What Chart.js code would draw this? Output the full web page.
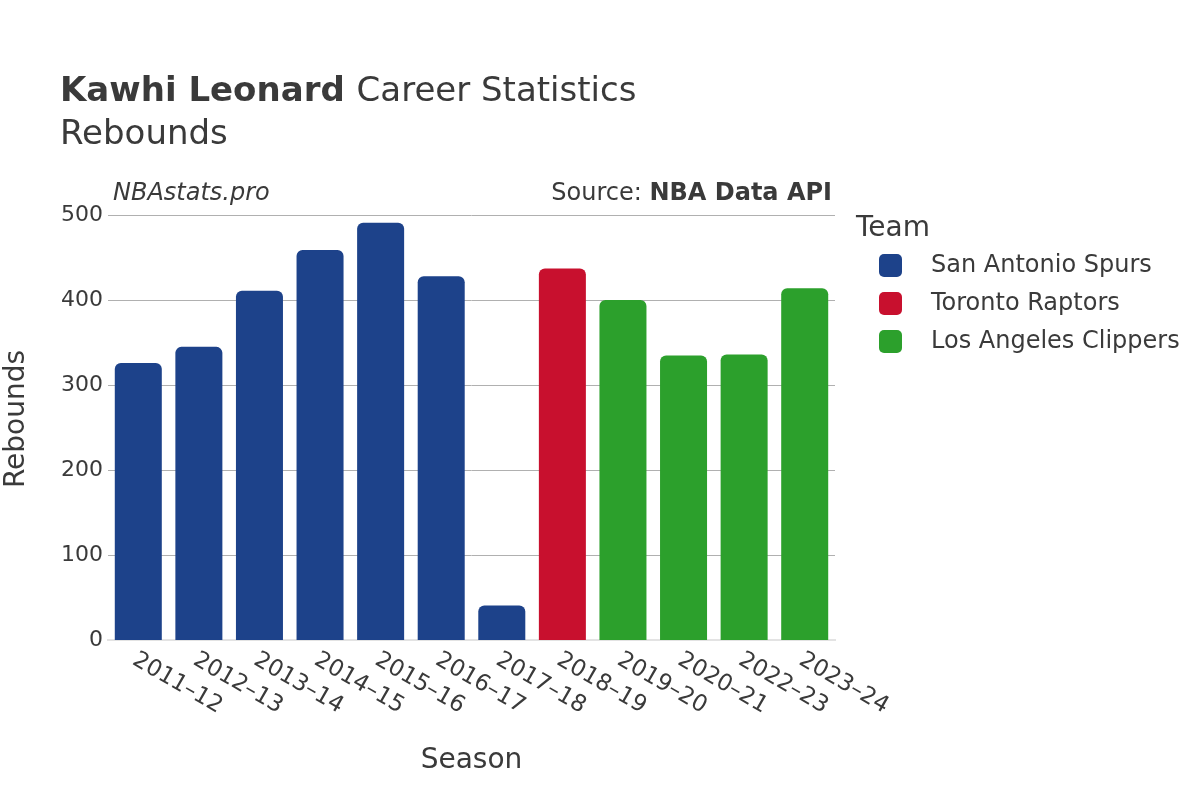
<!DOCTYPE html>
<html>
<head>
<meta charset="utf-8">
<script src="https://cdn.jsdelivr.net/npm/chart.js@4"></script>
<style>
  html, body { margin: 0; padding: 0; background: #fff; }
  #wrap { width: 1200px; height: 800px; }
</style>
</head>
<body>
<div id="wrap"><canvas id="rebounds-chart" width="1200" height="800"></canvas></div>
<script>
// data
const seasons = ["2011-12", "2012-13", "2013-14", "2014-15", "2015-16", "2016-17", "2017-18", "2018-19", "2019-20", "2020-21", "2022-23", "2023-24"];
const spurs    = [326, 345, 411, 459, 491, 428, 41, null, null, null, null, null];
const raptors  = [null, null, null, null, null, null, null, 437, null, null, null, null];
const clippers = [null, null, null, null, null, null, null, null, 400, 335, 336, 414];
const yTicks = [0, 100, 200, 300, 400, 500];

const font = "DejaVu Sans";
const textColor = "#3a3a3a";

function roundRect(ctx, x, y, w, h, r) {
    ctx.beginPath();
    ctx.moveTo(x + r, y);
    ctx.arcTo(x + w, y, x + w, y + h, r);
    ctx.arcTo(x + w, y + h, x, y + h, r);
    ctx.arcTo(x, y + h, x, y, r);
    ctx.arcTo(x, y, x + w, y, r);
    ctx.closePath();
    ctx.fill();
}

// title, watermark, source line, legend and slanted season labels
const decorPlugin = {
    id: 'decor',
    afterDraw(chart) {
        const ctx = chart.ctx;
        const area = chart.chartArea;
        ctx.save();
        ctx.fillStyle = textColor;
        ctx.textBaseline = 'alphabetic';

        ctx.font = "bold 34px '" + font + "'";
        ctx.textAlign = 'left';
        ctx.fillText("Kawhi Leonard", 60, 101);
        let w = ctx.measureText("Kawhi Leonard ").width;
        ctx.font = "34px '" + font + "'";
        ctx.fillText("Career Statistics", 60 + w, 101);
        ctx.fillText("Rebounds", 60, 144);

        ctx.font = "italic 24px '" + font + "'";
        ctx.fillText("NBAstats.pro", area.left + 5, 200);

        ctx.font = "bold 24px '" + font + "'";
        ctx.textAlign = 'right';
        ctx.fillText("NBA Data API", area.right - 3, 200);
        let bw = ctx.measureText("NBA Data API").width;
        ctx.font = "24px '" + font + "'";
        ctx.fillText("Source: ", area.right - 3 - bw, 200);

        // legend
        const lx = area.right + 21;
        ctx.textAlign = 'left';
        ctx.font = "28px '" + font + "'";
        ctx.fillText("Team", lx, 236);
        ctx.font = "24px '" + font + "'";
        ctx.textBaseline = 'middle';
        chart.data.datasets.forEach((ds, i) => {
            const cy = 265 + i * 38;
            ctx.fillStyle = ds.backgroundColor;
            roundRect(ctx, lx + 23, cy - 11, 23, 23, 5);
            ctx.fillStyle = textColor;
            ctx.fillText(ds.label, lx + 75, cy + 1);
        });

        // y title
        ctx.save();
        ctx.font = "28px '" + font + "'";
        ctx.textAlign = 'center';
        ctx.translate(17, 419);
        ctx.rotate(-Math.PI / 2);
        ctx.fillText("Rebounds", 0, 0);
        ctx.restore();

        // x labels, turned clockwise
        const xs = chart.scales.x;
        ctx.font = "23px '" + font + "'";
        ctx.textAlign = 'left';
        seasons.forEach((s, i) => {
            const x = xs.getPixelForTick(i);
            ctx.save();
            ctx.translate(x - 4, area.bottom + 18);
            ctx.rotate(Math.PI / 6);
            ctx.fillText(s.replace('-', '\u2013'), 0, 0);
            ctx.restore();
        });
        ctx.restore();
    }
};

new Chart(document.getElementById("rebounds-chart"), {
    type: 'bar',
    data: {
        labels: seasons,
        datasets: [{
            label: 'San Antonio Spurs',
            data: spurs,
            backgroundColor: '#1D428A',
            borderRadius: 6,
            borderSkipped: 'start'
        }, {
            label: 'Toronto Raptors',
            data: raptors,
            backgroundColor: '#C8102E',
            borderRadius: 6,
            borderSkipped: 'start'
        }, {
            label: 'Los Angeles Clippers',
            data: clippers,
            backgroundColor: '#2CA02C',
            borderRadius: 6,
            borderSkipped: 'start'
        }]
    },
    options: {
        responsive: false,
        animation: false,
        barPercentage: 0.776,
        categoryPercentage: 1,
        layout: {
            padding: { top: 215, bottom: 18, left: 40, right: 365 }
        },
        scales: {
            x: {
                stacked: true,
                grid: { display: false },
                border: { display: true, color: '#e3e3e3', width: 2 },
                ticks: { display: false },
                title: {
                    display: true,
                    text: 'Season',
                    color: textColor,
                    font: { family: font, size: 28 },
                    padding: { top: 96, bottom: 4 }
                }
            },
            y: {
                stacked: true,
                min: 0,
                max: 500,
                afterBuildTicks(scale) {
                    scale.ticks = yTicks.map(v => ({ value: v }));
                },
                afterFit(scale) {
                    scale.width = 68;
                },
                grid: {
                    color: (c) => c.tick && c.tick.value === 0 ? 'rgba(0,0,0,0)' : '#b0b0b0',
                    lineWidth: 1,
                    drawTicks: false
                },
                border: { display: false },
                ticks: {
                    color: textColor,
                    padding: 5,
                    font: { family: font, size: 22 }
                }
            }
        },
        plugins: {
            legend: { display: false },
            tooltip: { enabled: false }
        }
    },
    plugins: [decorPlugin]
});
</script>
</body>
</html>
